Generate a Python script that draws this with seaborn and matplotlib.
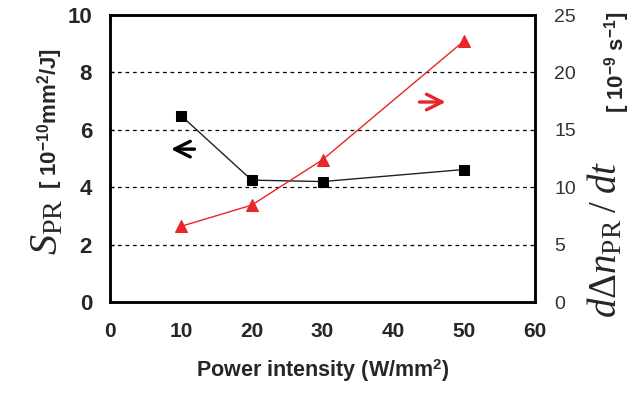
import matplotlib
matplotlib.use("Agg")
import matplotlib.pyplot as plt
import seaborn as sns
import pandas as pd

power = [10, 20, 30, 50]
s_pr = [6.5, 4.25, 4.2, 4.62]
dn_dt = [6.6, 8.45, 12.4, 22.75]
x_ticks = [0, 10, 20, 30, 40, 50, 60]
left_ticks = [0, 2, 4, 6, 8, 10]
right_ticks = [0, 5, 10, 15, 20, 25]

sns.set_style("white")
plt.rcParams['font.family'] = ['Liberation Sans', 'DejaVu Sans']
plt.rcParams['mathtext.fontset'] = 'custom'
plt.rcParams['mathtext.rm'] = 'Liberation Serif'
plt.rcParams['mathtext.it'] = 'Liberation Serif:italic'
plt.rcParams['mathtext.bf'] = 'Liberation Sans:bold'

df = pd.DataFrame({"power": power, "s_pr": s_pr, "dn_dt": dn_dt})

fig = plt.figure(figsize=(6.33, 3.95), dpi=100)
ax = fig.add_axes([0.174, 0.235, 0.671, 0.727])
ax2 = ax.twinx()

sns.lineplot(data=df, x="power", y="s_pr", ax=ax, color="#222222", lw=1.0,
             marker="s", markersize=7.5, markeredgecolor="black",
             markerfacecolor="black", zorder=5)
sns.lineplot(data=df, x="power", y="dn_dt", ax=ax2, color="#e8262a", lw=1.0,
             marker="^", markersize=9, markeredgecolor="#e8262a",
             markerfacecolor="#e8262a", zorder=5)

ax.set_xlim(0, 60)
ax.set_ylim(0, 10)
ax2.set_ylim(0, 25)
ax.set_xticks(x_ticks)
ax.set_yticks(left_ticks)
ax2.set_yticks(right_ticks)

for y in left_ticks[1:-1]:
    ax.axhline(y, color="black", lw=0.9, ls=(0, (3, 3)), zorder=1)

for sp in list(ax.spines.values()) + list(ax2.spines.values()):
    sp.set_linewidth(1.8)
    sp.set_color("black")

ax.tick_params(axis="x", direction="in", length=5, width=1.2, pad=14,
               labelsize=15)
ax.tick_params(axis="y", direction="in", length=3, width=1.0, pad=13,
               labelsize=16)
for lab in ax.get_xticklabels() + ax.get_yticklabels():
    lab.set_fontweight("bold")
ax2.tick_params(axis="y", direction="in", length=0, pad=14, labelsize=14,
                labelcolor="#333333")

ax.set_xlabel(r"Power intensity (W/mm$^{\mathbf{2}}$)", fontsize=15.5,
              fontweight="bold", labelpad=12)
ax.set_ylabel("")
ax2.set_ylabel("")

# left axis title, in two parts
fig.text(0.091, 0.354, r"$S_{\mathrm{PR}}$", rotation=90, rotation_mode="anchor",
         ha="left", va="baseline", fontsize=29)
fig.text(0.089, 0.522, r"[ 10$^{\mathbf{-10}}$mm$^{\mathbf{2}}$/J]", rotation=90,
         rotation_mode="anchor", ha="left", va="baseline", fontsize=16,
         fontweight="bold")
# right axis title, in two parts
fig.text(0.974, 0.195, r"$d\Delta n_{\mathrm{PR}}\;/\;dt$", rotation=90,
         rotation_mode="anchor", ha="left", va="baseline", fontsize=28)
fig.text(0.985, 0.714, r"[ 10$^{\mathbf{-9}}$ s$^{\mathbf{-1}}$]", rotation=90,
         rotation_mode="anchor", ha="left", va="baseline", fontsize=16,
         fontweight="bold")

ax.annotate("", xy=(8.2, 5.33), xytext=(12.3, 5.33),
            arrowprops=dict(arrowstyle="->", lw=2.4, color="black",
                            mutation_scale=28))
ax.annotate("", xy=(47.8, 6.97), xytext=(43.3, 6.97),
            arrowprops=dict(arrowstyle="->", lw=2.4, color="#e8262a",
                            mutation_scale=28))

fig.savefig("out.png", dpi=100)
